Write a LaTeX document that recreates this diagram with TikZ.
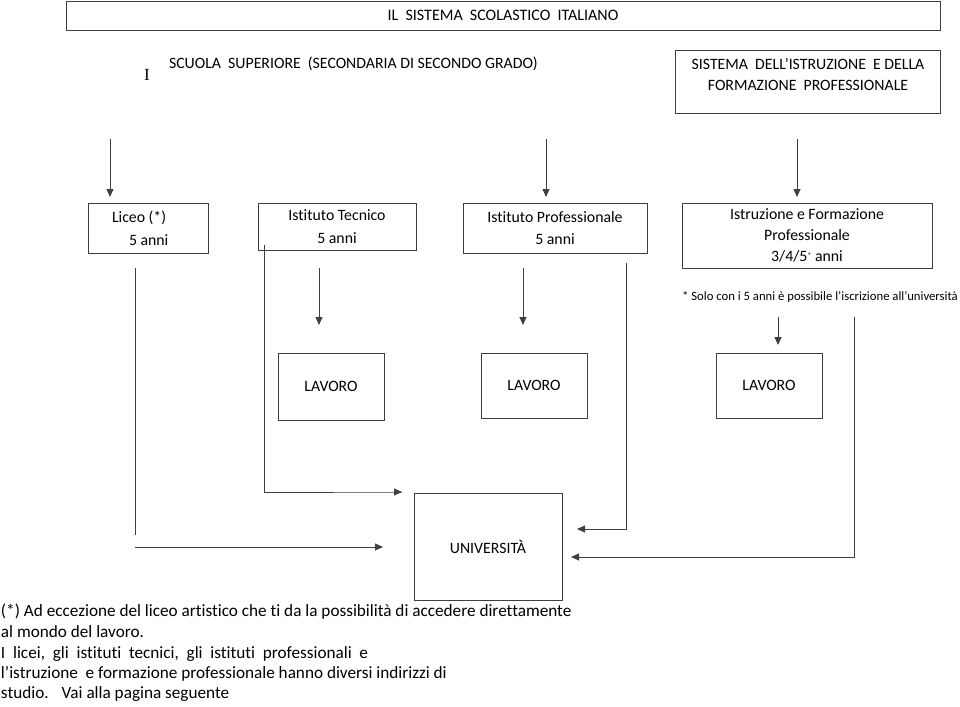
\documentclass[tikz,border=0pt]{standalone}
\usepackage{fontspec}
\setmainfont{Carlito}[Ligatures=NoCommon]
\newfontfamily\serifI{Liberation Serif}
\usetikzlibrary{arrows.meta}
\begin{document}
\begin{tikzpicture}[x=1pt,y=-1pt,
  box/.style={draw=black!75, line width=0.9pt, inner sep=0pt, outer sep=0pt, anchor=north west,
    font=\fontsize{15.8}{22.5}\selectfont, align=center},
  lbl/.style={inner sep=0pt, outer sep=0pt, font=\fontsize{15.8}{21}\selectfont, align=center},
  note/.style={inner sep=0pt, outer sep=0pt, anchor=west, font=\fontsize{17.2}{20}\selectfont},
  conn/.style={draw=black!75, line width=0.9pt},
  arr/.style={conn, -{Triangle[length=8pt,width=7pt]}}]
\useasboundingbox (0,0) rectangle (960,706);

% header
\node[box, minimum width=874pt, minimum height=29pt, font=\fontsize{16}{18}\selectfont] (title) at (66,1) {IL~~SISTEMA~~SCOLASTICO~~ITALIANO};
\node[inner sep=0pt, font=\serifI\fontsize{17}{18}\selectfont] (roman) at (147,75) {I};
\node[lbl, anchor=west] (scuola) at (169,64) {SCUOLA~~SUPERIORE~~(SECONDARIA DI SECONDO GRADO)};
\node[box, minimum width=265pt, minimum height=63pt] (sys) at (675,50) {};
\node[lbl] (systxt) at (808,74.5) {SISTEMA~~DELL’ISTRUZIONE~~E DELLA\\FORMAZIONE~~PROFESSIONALE};

% schools
\node[box, minimum width=120pt, minimum height=50pt] (liceo) at (88,203) {};
\node[lbl, align=left, anchor=west, font=\fontsize{15.8}{23}\selectfont] (liceotxt) at (112,228) {Liceo (*)\\\hspace*{17pt}5 anni};
\node[box, minimum width=158pt, minimum height=47pt] (tecnico) at (258,203) {Istituto Tecnico\\5 anni};
\node[box, minimum width=184pt, minimum height=50pt] (prof) at (463,203) {Istituto Professionale\\5 anni};
\node[box, minimum width=250pt, minimum height=65pt, font=\fontsize{15.8}{21}\selectfont] (iefp) at (682,203)
  {Istruzione e Formazione\\Professionale\\3/4/5\raisebox{0.35ex}{\fontsize{8}{8}\selectfont*} anni};
\node[inner sep=0pt, anchor=west, font=\fontsize{12.7}{14}\selectfont] (asterisk) at (682,297)
  {* Solo con i 5 anni è possibile l’iscrizione all’università};

% work
\node[box, minimum width=106pt, minimum height=67pt] (lav1) at (278,353) {LAVORO};
\node[box, minimum width=106pt, minimum height=65pt] (lav2) at (481,353) {LAVORO};
\node[box, minimum width=106pt, minimum height=65pt] (lav3) at (716,353) {LAVORO};

% university
\node[box, minimum width=148pt, minimum height=107pt] (univ) at (414,493) {UNIVERSITÀ};

% coordinates
\coordinate (a1) at (110,139);
\coordinate (a2) at (546,139);
\coordinate (a3) at (797,139);
\coordinate (b1) at (319,268);
\coordinate (b2) at (523,268);
\coordinate (b3) at (778,317);
\coordinate (l1) at (135,268);
\coordinate (l2) at (135,535);
\coordinate (h1) at (135,547);
\coordinate (t1) at (264,245);
\coordinate (p1) at (626,263);
\coordinate (q1) at (854,317);

% arrows into schools
\draw[arr, shorten >=6pt] (a1) -- (a1 |- liceo.north);
\draw[arr, shorten >=6pt] (a2) -- (a2 |- prof.north);
\draw[arr, shorten >=6pt] (a3) -- (a3 |- iefp.north);

% arrows to work
\draw[arr, shorten >=28pt] (b1) -- (b1 |- lav1.north);
\draw[arr, shorten >=28pt] (b2) -- (b2 |- lav2.north);
\draw[arr, shorten >=8pt] (b3) -- (b3 |- lav3.north);

% routes to university
\draw[conn] (l1) -- (l2);
\draw[arr, shorten >=31pt] (h1) -- (h1 -| univ.west);
\draw[arr, shorten >=12pt] (t1) |- (402,492) -- (414,492);
\draw[arr, shorten >=15pt] (p1) |- (univ.east |- 0,529);
\draw[arr, shorten >=9pt] (q1) |- (univ.east |- 0,557);

% notes
\node[note] (n1) at (1,612) {(*) Ad eccezione del liceo artistico che ti da la possibilità di accedere direttamente};
\node[note] (n2) at (1,632) {al mondo del lavoro.};
\node[note] (n3) at (1,654) {I~ licei,~ gli~ istituti~ tecnici,~ gli~ istituti~ professionali~ e};
\node[note] (n4) at (1,674) {l’istruzione~ e formazione professionale hanno diversi indirizzi di};
\node[note] (n5) at (1,694) {studio.~~ Vai alla pagina seguente};
\end{tikzpicture}
\end{document}
